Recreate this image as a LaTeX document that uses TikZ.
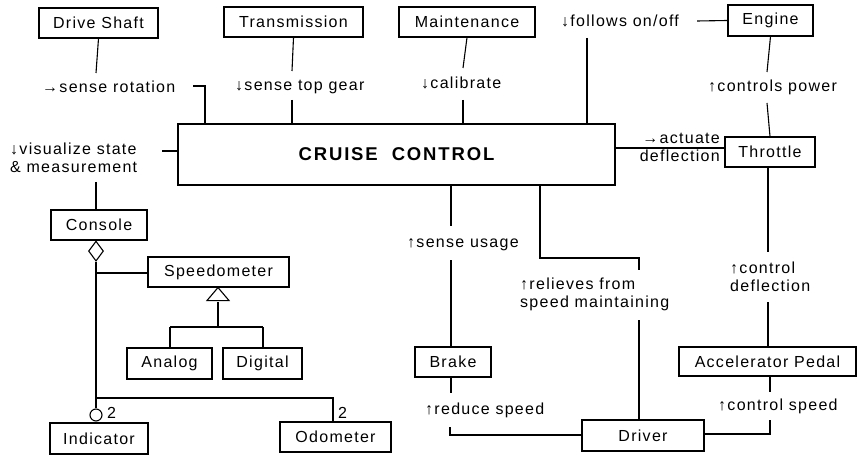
\documentclass[tikz,border=0pt]{standalone}
\usepackage{fontspec}
\setmainfont{Liberation Sans}[LetterSpace=8]
\newfontfamily\titlefont{Liberation Sans}[LetterSpace=10]
\usetikzlibrary{shapes.geometric}
\begin{document}
\begin{tikzpicture}[x=1pt,y=-1pt,
  every node/.style={font=\fontsize{16}{18}\selectfont},
  box/.style={draw, line width=1.1pt, inner sep=0pt, minimum height=30pt},
  lbl/.style={anchor=west, inner sep=0pt, align=left},
  conn/.style={line width=1.1pt}]
\useasboundingbox (0,0) rectangle (859,457);

% classes
\node[box, minimum width=119pt] (drive) at (98.5,23) {Drive Shaft};
\node[box, minimum width=139pt] (trans) at (293.5,22) {Transmission};
\node[box, minimum width=136pt] (maint) at (467,22) {Maintenance};
\node[box, minimum width=85pt, minimum height=31pt] (engine) at (770.5,20.5) {Engine};
\node[box, minimum width=437pt, minimum height=61pt] (cruise) at (396.5,154.5)
  {\titlefont\bfseries\fontsize{18.5}{20}\selectfont CRUISE\hspace{14pt}CONTROL};
\node[box, minimum width=90pt] (throttle) at (770,152) {Throttle};
\node[box, minimum width=96pt] (console) at (99,225) {Console};
\node[box, minimum width=141pt] (speedo) at (218.5,272) {Speedometer};
\node[box, minimum width=85pt, minimum height=31pt] (analog) at (169.5,363.5) {Analog};
\node[box, minimum width=79pt, minimum height=31pt] (digital) at (262.5,363.5) {Digital};
\node[box, minimum width=98pt, minimum height=31pt] (indicator) at (99,438.5) {Indicator};
\node[box, minimum width=111pt] (odometer) at (335.5,437) {Odometer};
\node[box, minimum width=76pt] (brake) at (453,362) {Brake};
\node[box, minimum width=122pt, minimum height=31pt] (driver) at (643,435.5) {Driver};
\node[box, minimum width=177pt, minimum height=29pt] (accel) at (767.5,361.5) {Accelerator Pedal};

% association labels
\node[lbl] (lrot) at (42,87) {→sense rotation};
\node[lbl] (lgear) at (235,87) {↓sense top gear};
\node[lbl] (lcal) at (421,83) {↓calibrate};
\node[lbl] (lfol) at (561,21) {↓follows on/off};
\node[lbl] (lpow) at (708,87) {↑controls power};
\node[lbl] (lvis) at (10,158) {↓visualize state\\\& measurement};
\node[anchor=east, inner sep=0pt, align=right] (lact) at (720,147) {→actuate\\deflection};
\node[lbl] (luse) at (407,245) {↑sense usage};
\node[lbl] (lrel) at (520,294.5) {↑relieves from\\speed maintaining};
\node[lbl] (ldef) at (730,277) {↑control\\deflection};
\node[lbl] (lred) at (425,410) {↑reduce speed};
\node[lbl] (lspd) at (718,406) {↑control speed};
\node[lbl] (mind) at (107,413) {2};
\node[lbl] (modo) at (338,413) {2};

% associations to the cruise control
\draw[conn] (drive.south) -- (96,73);
\draw[conn] (193,86) -- (205,86) -- (205,0 |- cruise.north);
\draw[conn] (trans.south) -- (292,71);
\draw[conn] (292,100) -- (292,0 |- cruise.north);
\draw[conn] (maint.south) -- (463,68);
\draw[conn] (463,100) -- (463,0 |- cruise.north);
\draw[conn] (697,21) -- (engine.west);
\draw[conn] (587,38) -- (587,0 |- cruise.north);
\draw[conn] (engine.south) -- (767,72);
\draw[conn] (767,103) -- (throttle.north);
\draw[conn] (cruise.east |- 0,148) -- (throttle.west |- 0,148);
\draw[conn] (162,151) -- (cruise.west |- 0,151);
\draw[conn] (96,182) -- (96,0 |- console.north);

% console aggregation
\node[draw, line width=1.1pt, diamond, inner sep=0pt, minimum width=15pt,
  minimum height=20pt, anchor=north] (agg) at (96,0 |- console.south) {};
\node[draw, line width=1.1pt, circle, inner sep=0pt, minimum size=12pt] (opt) at (96,415) {};
\draw[conn] (agg.south) -- (opt.north);
\draw[conn] (opt.south) -- (opt.south |- indicator.north);
\draw[conn] (96,273) -- (speedo.west |- 0,273);
\draw[conn] (96,398) -- (333,398) -- (333,0 |- odometer.north);

% speedometer generalisation
\coordinate (apex) at (218,0 |- speedo.south);
\draw[conn, line join=miter] (apex) -- ++(-11,13) -- ++(22,0) -- cycle;
\draw[conn] (218,302) -- (218,327);
\draw[conn] (170,327) -- (263,327);
\draw[conn] (170,327) -- (170,0 |- analog.north);
\draw[conn] (263,327) -- (263,0 |- digital.north);

% driver side
\draw[conn] (451,0 |- cruise.south) -- (451,226);
\draw[conn] (451,260) -- (451,0 |- brake.north);
\draw[conn] (451,0 |- brake.south) -- (451,393);
\draw[conn] (450,427) -- (450,435) -- (driver.west |- 0,435);
\draw[conn] (540,0 |- cruise.south) -- (540,258) -- (639,258) -- (639,270);
\draw[conn] (639,320) -- (639,0 |- driver.north);
\draw[conn] (768,0 |- throttle.south) -- (768,252);
\draw[conn] (768,302) -- (768,0 |- accel.north);
\draw[conn] (770,0 |- accel.south) -- (770,392);
\draw[conn] (770,420) -- (770,434) -- (driver.east |- 0,434);
\end{tikzpicture}
\end{document}
